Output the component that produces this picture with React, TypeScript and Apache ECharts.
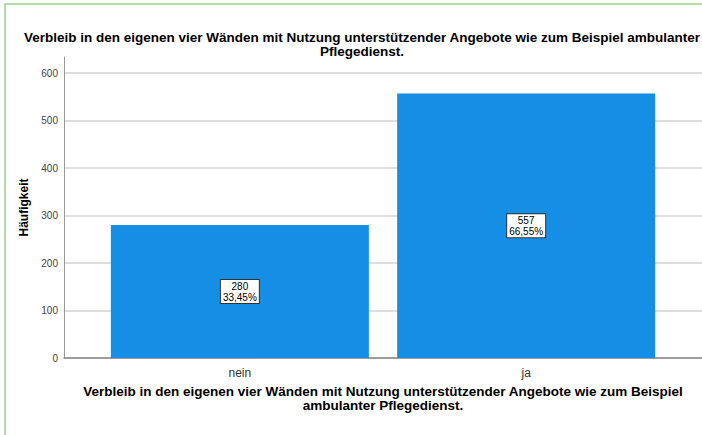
import React, { useEffect, useRef } from "react";
import * as echarts from "echarts";

const categories = ["nein", "ja"];
const counts = [280, 557];
const yTicks = [0, 100, 200, 300, 400, 500, 600];
const titleText =
  "Verbleib in den eigenen vier Wänden mit Nutzung unterstützender Angebote wie zum Beispiel ambulanter\nPflegedienst.";
const xAxisTitle =
  "Verbleib in den eigenen vier Wänden mit Nutzung unterstützender Angebote wie zum Beispiel\nambulanter Pflegedienst.";
const yAxisTitle = "Häufigkeit";

export default function App() {
  const ref = useRef<HTMLDivElement>(null);
  useEffect(() => {
    if (!ref.current) return;
    const chart = echarts.init(ref.current, null, { renderer: "svg" });
    const total = counts.reduce((a, b) => a + b, 0);
    const font = "Arial, 'Liberation Sans', sans-serif";
    chart.setOption({
      animation: false,
      backgroundColor: "#ffffff",
      textStyle: { fontFamily: font },
      title: {
        text: titleText,
        left: 357,
        top: 25,
        textAlign: "center",
        textStyle: {
          fontFamily: font,
          fontSize: 13.5,
          fontWeight: "bold",
          color: "#000",
          lineHeight: 14,
        },
      },
      graphic: [
        {
          type: "rect",
          shape: { x: 5, y: 4, width: 760, height: 500 },
          style: { fill: "none", stroke: "#9fd08a", lineWidth: 1.5 },
          silent: true,
        },
        {
          type: "text",
          x: 383,
          y: 398,
          style: {
            text: xAxisTitle,
            font: `bold 13.5px ${font}`,
            fill: "#000",
            align: "center",
            verticalAlign: "middle",
            lineHeight: 14,
          },
        },
      ],
      grid: { left: 64, right: 0, top: 57, bottom: 77, containLabel: false },
      xAxis: {
        type: "value",
        min: -0.6143,
        max: 1.6143,
        splitLine: { show: false },
        axisTick: { show: false },
        axisLine: { show: true, onZero: false, lineStyle: { color: "#888", width: 1.5 } },
        axisLabel: {
          customValues: categories.map((_, i) => i),
          formatter: (v: number) => categories[Math.round(v)] ?? "",
          color: "#333",
          fontSize: 12,
          margin: 9,
          fontFamily: font,
        },
      },
      yAxis: {
        type: "value",
        min: 0,
        max: 634,
        name: yAxisTitle,
        nameLocation: "middle",
        nameGap: 29,
        nameTextStyle: { fontFamily: font, fontSize: 12, fontWeight: "bold", color: "#000" },
        axisLine: { show: true, onZero: false, lineStyle: { color: "#999", width: 1 } },
        axisTick: { show: false, customValues: yTicks },
        axisLabel: {
          customValues: yTicks,
          color: "#444",
          fontSize: 10,
          margin: 6,
          fontFamily: font,
        },
        splitLine: { show: true, lineStyle: { color: "#d4d4d4", width: 1.5 } },
      },
      series: [
        {
          type: "bar",
          data: counts.map((c, i) => [i, c]),
          barWidth: 258,
          itemStyle: { color: "#158fe5" },
          label: {
            show: true,
            position: "inside",
            formatter: (p: any) => {
              const v = p.value[1];
              return `${v}\n${((v / total) * 100).toFixed(2).replace(".", ",")}%`;
            },
            backgroundColor: "#fff",
            borderColor: "#333",
            borderWidth: 1,
            padding: [1, 2, 0, 2],
            color: "#000",
            fontSize: 10,
            lineHeight: 11,
            fontFamily: font,
          },
        },
      ],
    });
    return () => chart.dispose();
  }, []);
  return (
    <div
      ref={ref}
      style={{ position: "fixed", left: 0, top: 0, width: 702, height: 435 }}
    />
  );
}
